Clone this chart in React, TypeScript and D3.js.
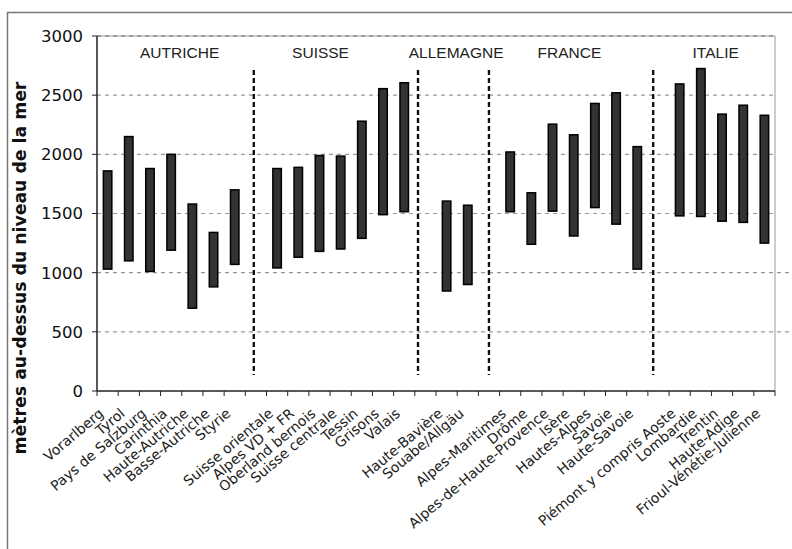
import { useEffect, useRef } from 'react';
import * as d3 from 'd3';

// '' marks the empty slot where a country divider sits
const regions = [
  'Vorarlberg', 'Tyrol', 'Pays de Salzburg', 'Carinthia', 'Haute-Autriche', 'Basse-Autriche', 'Styrie',
  '',
  'Suisse orientale', 'Alpes VD + FR', 'Oberland bernois', 'Suisse centrale', 'Tessin', 'Grisons', 'Valais',
  '',
  'Haute-Bavière', 'Souabe/Allgäu',
  '',
  'Alpes-Maritimes', 'Drôme', 'Alpes-de-Haute-Provence', 'Isère', 'Hautes-Alpes', 'Savoie', 'Haute-Savoie',
  '',
  'Piémont y compris Aoste', 'Lombardie', 'Trentin', 'Haute-Adige', 'Frioul-Vénétie-Julienne',
];

const lowValues: (number | null)[] = [
  1030, 1100, 1010, 1190, 700, 880, 1070,
  null,
  1040, 1130, 1180, 1200, 1290, 1490, 1515,
  null,
  845, 900,
  null,
  1515, 1240, 1520, 1310, 1550, 1410, 1030,
  null,
  1480, 1475, 1435, 1425, 1250,
];

const highValues: (number | null)[] = [
  1860, 2150, 1880, 2000, 1580, 1340, 1700,
  null,
  1880, 1890, 1990, 1985, 2280, 2555, 2605,
  null,
  1605, 1570,
  null,
  2020, 1675, 2255, 2165, 2430, 2520, 2065,
  null,
  2595, 2725, 2340, 2415, 2330,
];

const countries = ['AUTRICHE', 'SUISSE', 'ALLEMAGNE', 'FRANCE', 'ITALIE'];
// label centres and dividers, in slot units
const countryCenters = [3.9, 10.55, 16.95, 22.3, 29.2];
const dividerSlots = [7.4, 15.15, 18.5, 26.25];

const yTicks = [0, 500, 1000, 1500, 2000, 2500, 3000];

const W = 792;
const H = 549;
const left = 97;
const right = 775;
const top = 36;
const bottom = 391;

const App = () => {
  const svgRef = useRef<SVGSVGElement>(null);

  useEffect(() => {
    if (!svgRef.current) return;
    const svg = d3.select(svgRef.current);
    svg.selectAll('*').remove();

    const x = d3
      .scaleBand<string>()
      .domain(regions.map((_, i) => String(i)))
      .range([left, right])
      .paddingInner(0.6)
      .paddingOuter(0.3);
    const slot = d3.scaleLinear().domain([0, regions.length]).range([left, right]);
    const y = d3.scaleLinear().domain([0, 3000]).range([bottom, top]);

    // outer frame
    svg
      .append('path')
      .attr('d', `M7.5,${H} V12.5 H${W}`)
      .attr('fill', 'none')
      .attr('stroke', '#777')
      .attr('stroke-width', 1.5);

    // plot border (top / right)
    svg
      .append('path')
      .attr('d', `M${left},${top} H${right} V${bottom}`)
      .attr('fill', 'none')
      .attr('stroke', '#999')
      .attr('stroke-width', 1);

    // grid lines
    svg
      .append('g')
      .selectAll('line')
      .data(yTicks.filter((t) => t > 0))
      .join('line')
      .attr('x1', left)
      .attr('x2', (d) => (d <= 1000 ? W : right))
      .attr('y1', (d) => y(d))
      .attr('y2', (d) => y(d))
      .attr('stroke', (d) => (d === 3000 ? '#666' : '#999'))
      .attr('stroke-width', 1.2)
      .attr('stroke-dasharray', '4,4');

    // dividers
    svg
      .append('g')
      .selectAll('line')
      .data(dividerSlots)
      .join('line')
      .attr('x1', (d) => slot(d))
      .attr('x2', (d) => slot(d))
      .attr('y1', 70)
      .attr('y2', 375)
      .attr('stroke', '#111')
      .attr('stroke-width', 2.4)
      .attr('stroke-dasharray', '5,3');

    // country labels
    svg
      .append('g')
      .selectAll('text')
      .data(countries)
      .join('text')
      .attr('x', (_, i) => slot(countryCenters[i]))
      .attr('y', 58)
      .attr('text-anchor', 'middle')
      .attr('font-family', '"Liberation Sans", Arial, sans-serif')
      .attr('font-size', 15.5)
      .attr('fill', '#222')
      .text((d) => d);

    // range bars
    const idx = regions.map((_, i) => i).filter((i) => lowValues[i] !== null);
    svg
      .append('g')
      .selectAll('rect')
      .data(idx)
      .join('rect')
      .attr('x', (i) => x(String(i))!)
      .attr('width', x.bandwidth())
      .attr('y', (i) => y(highValues[i]!))
      .attr('height', (i) => y(lowValues[i]!) - y(highValues[i]!))
      .attr('fill', '#333')
      .attr('stroke', '#000')
      .attr('stroke-width', 1.5);

    // y axis
    const yAxis = svg.append('g').attr('transform', `translate(${left},0)`);
    yAxis
      .append('line')
      .attr('y1', top)
      .attr('y2', bottom)
      .attr('stroke', '#222')
      .attr('stroke-width', 1.5);
    yAxis
      .selectAll('line.tick')
      .data(yTicks)
      .join('line')
      .attr('class', 'tick')
      .attr('x1', -5)
      .attr('x2', 0)
      .attr('y1', (d) => y(d))
      .attr('y2', (d) => y(d))
      .attr('stroke', '#222');
    yAxis
      .selectAll('text')
      .data(yTicks)
      .join('text')
      .attr('x', -14)
      .attr('y', (d) => y(d))
      .attr('dy', '0.36em')
      .attr('text-anchor', 'end')
      .attr('font-family', '"DejaVu Sans", Verdana, sans-serif')
      .attr('font-size', 16.5)
      .attr('fill', '#111')
      .text((d) => d);

    // x axis
    const xAxis = svg.append('g');
    xAxis
      .append('line')
      .attr('x1', left)
      .attr('x2', right)
      .attr('y1', bottom)
      .attr('y2', bottom)
      .attr('stroke', '#222')
      .attr('stroke-width', 1.5);
    xAxis
      .selectAll('line.tick')
      .data(d3.range(regions.length + 1))
      .join('line')
      .attr('class', 'tick')
      .attr('x1', (d) => slot(d))
      .attr('x2', (d) => slot(d))
      .attr('y1', bottom)
      .attr('y2', bottom + 5)
      .attr('stroke', '#222');
    xAxis
      .selectAll('text')
      .data(idx)
      .join('text')
      .attr(
        'transform',
        (i) => `translate(${x(String(i))! + x.bandwidth() / 2 - 3},${bottom + 24}) rotate(-40)`
      )
      .attr('text-anchor', 'end')
      .attr('font-family', '"DejaVu Sans", Verdana, sans-serif')
      .attr('font-size', 14)
      .attr('fill', '#222')
      .text((i) => regions[i]);

    // y title
    svg
      .append('text')
      .attr('transform', `translate(26,268) rotate(-90)`)
      .attr('text-anchor', 'middle')
      .attr('font-family', '"DejaVu Sans", Verdana, sans-serif')
      .attr('font-weight', 'bold')
      .attr('font-size', 17.3)
      .attr('fill', '#111')
      .text('mètres au-dessus du niveau de la mer');
  }, []);

  return (
    <svg
      ref={svgRef}
      width={W}
      height={H}
      style={{ position: 'absolute', left: 0, top: 0, background: '#fff' }}
    />
  );
};

export default App;
